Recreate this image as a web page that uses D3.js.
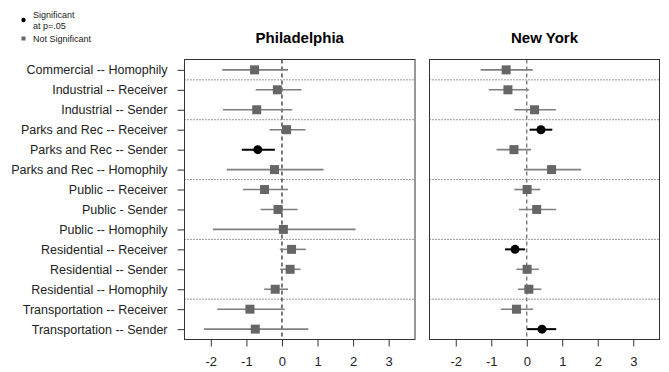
<!DOCTYPE html>
<html>
<head>
<meta charset="utf-8">
<script src="https://cdn.jsdelivr.net/npm/d3@7"></script>
<style>
  html, body { margin: 0; padding: 0; background: #fff; }
  svg { display: block; font-family: "Liberation Sans", Arial, sans-serif; }
</style>
</head>
<body>
<svg id="chart" width="669" height="372"></svg>
<script>
// Row labels, top to bottom
const categories = [
  "Commercial -- Homophily",
  "Industrial -- Receiver",
  "Industrial -- Sender",
  "Parks and Rec -- Receiver",
  "Parks and Rec -- Sender",
  "Parks and Rec -- Homophily",
  "Public -- Receiver",
  "Public - Sender",
  "Public -- Homophily",
  "Residential -- Receiver",
  "Residential -- Sender",
  "Residential -- Homophily",
  "Transportation -- Receiver",
  "Transportation -- Sender"
];

// Philadelphia estimates with lower / upper interval bounds
const phlEstimate = [-0.77, -0.13, -0.71, 0.13, -0.68, -0.21, -0.49, -0.11, 0.04, 0.27, 0.23, -0.19, -0.90, -0.75];
const phlLower    = [-1.68, -0.74, -1.66, -0.35, -1.13, -1.55, -1.10, -0.60, -1.94, -0.06, -0.05, -0.50, -1.82, -2.19];
const phlUpper    = [ 0.17,  0.55,  0.29,  0.66, -0.20,  1.17,  0.17,  0.44,  2.07,  0.67,  0.52,  0.17,  0.08,  0.74];
const phlSig      = [false, false, false, false, true, false, false, false, false, false, false, false, false, false];

// New York estimates (no estimate for Public -- Homophily)
const nycEstimate = [-0.58, -0.53, 0.22, 0.40, -0.36, 0.70, 0.01, 0.28, null, -0.33, 0.01, 0.06, -0.29, 0.43];
const nycLower    = [-1.30, -1.07, -0.35, 0.08, -0.85, -0.08, -0.35, -0.22, null, -0.61, -0.29, -0.25, -0.73, 0.01];
const nycUpper    = [ 0.17,  0.06,  0.82, 0.72,  0.12,  1.53,  0.38,  0.83, null, -0.05,  0.34,  0.41,  0.18, 0.83];
const nycSig      = [false, false, false, true, false, false, false, false, false, true, false, false, false, true];

// Group separators sit after these row positions
const separatorsAfter = [1, 3, 6, 9, 12];
const xTicks = [-2, -1, 0, 1, 2, 3];

const panels = [
  { title: "Philadelphia", est: phlEstimate, lo: phlLower, hi: phlUpper, sig: phlSig, left: 184.5, right: 415, zeroColor: "#222" },
  { title: "New York", est: nycEstimate, lo: nycLower, hi: nycUpper, sig: nycSig, left: 429.5, right: 659.5, zeroColor: "#666" }
];

const plotTop = 59.5, plotBottom = 339.5;
const svg = d3.select("#chart");

// R-style 4% padding on both axes
const xLim = [-2.5, 3.5], xPad = (xLim[1] - xLim[0]) * 0.04;
const yLim = [1, 14], yPad = (yLim[1] - yLim[0]) * 0.04;
const y = d3.scaleLinear().domain([yLim[0] - yPad, yLim[1] + yPad]).range([plotTop, plotBottom]);

const gray = "#666666";
const lineGray = "#7f7f7f";

panels.forEach((p, pi) => {
  const x = d3.scaleLinear().domain([xLim[0] - xPad, xLim[1] + xPad]).range([p.left, p.right]);
  const g = svg.append("g");

  // group separators
  separatorsAfter.forEach(s => {
    g.append("line")
      .attr("x1", p.left).attr("x2", p.right)
      .attr("y1", y(s + 0.5)).attr("y2", y(s + 0.5))
      .attr("stroke", "#333").attr("stroke-width", 1)
      .attr("stroke-dasharray", "1,2");
  });

  // zero reference
  g.append("line")
    .attr("x1", x(0)).attr("x2", x(0))
    .attr("y1", plotTop).attr("y2", plotBottom)
    .attr("stroke", p.zeroColor).attr("stroke-width", 1.2)
    .attr("stroke-dasharray", "4,3");

  const rows = categories.map((c, i) => ({
    pos: i + 1, est: p.est[i], lo: p.lo[i], hi: p.hi[i], sig: p.sig[i]
  })).filter(d => d.est !== null);

  // confidence intervals
  g.selectAll(".ci").data(rows).enter().append("line")
    .attr("x1", d => x(d.lo)).attr("x2", d => x(d.hi))
    .attr("y1", d => y(d.pos)).attr("y2", d => y(d.pos))
    .attr("stroke", d => d.sig ? "#000" : lineGray)
    .attr("stroke-width", d => d.sig ? 2 : 1.6);

  // point estimates
  rows.forEach(d => {
    if (d.sig) {
      g.append("circle")
        .attr("cx", x(d.est)).attr("cy", y(d.pos)).attr("r", 4.5)
        .attr("fill", "#000");
    } else {
      g.append("rect")
        .attr("x", x(d.est) - 4.5).attr("y", y(d.pos) - 4.5)
        .attr("width", 9).attr("height", 9)
        .attr("fill", gray);
    }
  });

  // plot frame
  g.append("rect")
    .attr("x", p.left).attr("y", plotTop)
    .attr("width", p.right - p.left).attr("height", plotBottom - plotTop)
    .attr("fill", "none").attr("stroke", "#333").attr("stroke-width", 1);

  // x axis (plain hyphen minus signs)
  const xAxis = d3.axisBottom(x).tickValues(xTicks).tickSize(7).tickPadding(10)
    .tickFormat(d => String(d));
  const ax = g.append("g").attr("transform", `translate(0,${plotBottom})`).call(xAxis);
  ax.select(".domain").remove();
  ax.selectAll(".tick line").attr("stroke", "#333");
  ax.selectAll(".tick text").attr("font-size", 13).attr("fill", "#222")
    .attr("font-family", "Liberation Sans, Arial, sans-serif");

  // y axis ticks, labels only on the first panel
  const yAxis = d3.axisLeft(y).tickValues(d3.range(1, 15)).tickSize(pi === 0 ? 7 : 0)
    .tickPadding(10)
    .tickFormat(pi === 0 ? (d => categories[d - 1]) : "");
  const ay = g.append("g").attr("transform", `translate(${p.left},0)`).call(yAxis);
  ay.select(".domain").remove();
  ay.selectAll(".tick line").attr("stroke", "#333");
  ay.selectAll(".tick text").attr("font-size", 12.5).attr("fill", "#222")
    .attr("font-family", "Liberation Sans, Arial, sans-serif");

  // panel title
  g.append("text")
    .attr("x", (p.left + p.right) / 2).attr("y", 43)
    .attr("text-anchor", "middle")
    .attr("font-size", 15).attr("font-weight", "bold").attr("fill", "#000")
    .text(p.title);
});

// legend
const legend = svg.append("g").attr("font-size", 9).attr("fill", "#222");
legend.append("circle").attr("cx", 23.5).attr("cy", 20).attr("r", 2.2).attr("fill", "#000");
legend.append("text").attr("x", 33).attr("y", 17.5).text("Significant");
legend.append("text").attr("x", 33).attr("y", 29).text("at p=.05");
legend.append("rect").attr("x", 21.5).attr("y", 36.5).attr("width", 4).attr("height", 4).attr("fill", gray);
legend.append("text").attr("x", 33).attr("y", 42).text("Not Significant");
</script>
</body>
</html>
